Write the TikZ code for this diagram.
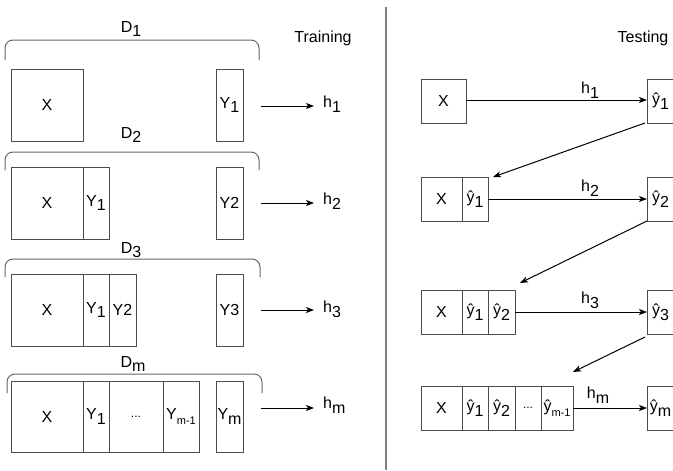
\documentclass[tikz,border=0pt]{standalone}
\usepackage{fontspec}
\setmainfont{Liberation Sans}
\usetikzlibrary{arrows.meta}
\newcommand\sbs[1]{\raisebox{-0.3em}{#1}}
\newcommand\ssm[1]{\raisebox{-0.3em}{\fontsize{11}{11}\selectfont #1}}
\tikzset{
  cell/.style={draw=black!70, line width=1pt, inner sep=0pt, outer sep=0pt, font=\fontsize{16}{19}\selectfont},
  lbl/.style={inner sep=0pt, font=\fontsize{16}{19}\selectfont},
  brc/.style={draw=black!60, line width=1pt, rounded corners=8pt},
  arr/.style={draw=black, line width=1pt, -{Stealth[length=8pt,width=6pt,inset=2pt]}},
}
\begin{document}
\begin{tikzpicture}[x=1pt,y=-1pt]
\useasboundingbox (0,0) rectangle (673,471);
% titles
\node[lbl] (train) at (323,38) {Training};
\node[lbl] (test) at (643,38) {Testing};
% separator
\draw[black!50, line width=1.5pt] (386,7) -- (386,470);

% ---------- Training ----------
% row 1
\draw[brc] (5,60) -- (5,40) -- (259,40) -- (259,60);
\node[lbl] (d1) at (131,29) {D\sbs{1}};
\node[cell, minimum width=72, minimum height=72] (a1x) at (47,105) {X};
\node[cell, minimum width=27, minimum height=72] (a1y) at (229.5,105) {Y\sbs{1}};
\coordinate (a1s) at (261,106); \coordinate (a1e) at (314,106);
\draw[arr] (a1s) -- (a1e);
\node[lbl, anchor=west] (h1) at (323,104) {h\sbs{1}};
% row 2
\draw[brc] (5,170) -- (5,152) -- (259,152) -- (259,170);
\node[lbl] (d2) at (131,135) {D\sbs{2}};
\node[cell, minimum width=72, minimum height=72] (a2x) at (47,203) {X};
\node[cell, minimum width=26, minimum height=72] (a2y1) at (96,203) {Y\sbs{1}};
\node[cell, minimum width=27, minimum height=72] (a2y) at (229.5,203) {Y2};
\coordinate (a2s) at (261,203); \coordinate (a2e) at (314,203);
\draw[arr] (a2s) -- (a2e);
\node[lbl, anchor=west] (h2) at (323,201) {h\sbs{2}};
% row 3
\draw[brc] (5,277) -- (5,259) -- (260,259) -- (260,277);
\node[lbl] (d3) at (131,250) {D\sbs{3}};
\node[cell, minimum width=72, minimum height=72] (a3x) at (47,310) {X};
\node[cell, minimum width=26, minimum height=72] (a3y1) at (96,310) {Y\sbs{1}};
\node[cell, minimum width=27, minimum height=72] (a3y2) at (122.5,310) {Y2};
\node[cell, minimum width=27, minimum height=72] (a3y) at (229.5,310) {Y3};
\coordinate (a3s) at (261,310); \coordinate (a3e) at (314,310);
\draw[arr] (a3s) -- (a3e);
\node[lbl, anchor=west] (h3) at (323,309) {h\sbs{3}};
% row m
\draw[brc] (7,393) -- (7,374) -- (262,374) -- (262,393);
\node[lbl] (dm) at (133,364) {D\sbs{m}};
\node[cell, minimum width=72, minimum height=71] (amx) at (47,416.5) {X};
\node[cell, minimum width=26, minimum height=71] (amy1) at (96,416.5) {Y\sbs{1}};
\node[cell, minimum width=54, minimum height=71] (amdots) at (136,416.5) {\fontsize{12}{12}\selectfont ...};
\node[cell, minimum width=36, minimum height=71] (amym1) at (181,416.5) {Y\ssm{m-1}};
\node[cell, minimum width=27, minimum height=71] (amy) at (229.5,416.5) {Y\sbs{m}};
\coordinate (ams) at (261,408); \coordinate (ame) at (314,408);
\draw[arr] (ams) -- (ame);
\node[lbl, anchor=west] (hm) at (323,405) {h\sbs{m}};

% ---------- Testing ----------
% row 1
\node[cell, minimum width=45, minimum height=44] (b1x) at (443.5,101) {X};
\node[cell, minimum width=27, minimum height=44] (t1) at (660.5,101) {ŷ\sbs{1}};
\draw[arr] (b1x.east |- 0,100) -- (t1.west |- 0,100);
\node[lbl] (th1) at (590,90) {h\sbs{1}};
% row 2
\node[cell, minimum width=41, minimum height=44] (b2x) at (441.5,199) {X};
\node[cell, minimum width=26, minimum height=44] (b2y1) at (475,199) {ŷ\sbs{1}};
\node[cell, minimum width=27, minimum height=44] (t2) at (660.5,199) {ŷ\sbs{2}};
\draw[arr] (b2y1.east) -- (t2.west);
\node[lbl] (th2) at (590,188) {h\sbs{2}};
% row 3
\node[cell, minimum width=41, minimum height=44] (b3x) at (441.5,312) {X};
\node[cell, minimum width=26, minimum height=44] (b3y1) at (475,312) {ŷ\sbs{1}};
\node[cell, minimum width=27, minimum height=44] (b3y2) at (501.5,312) {ŷ\sbs{2}};
\node[cell, minimum width=27, minimum height=44] (t3) at (660.5,312) {ŷ\sbs{3}};
\draw[arr] (b3y2.east) -- (t3.west);
\node[lbl] (th3) at (590,300) {h\sbs{3}};
% row m
\node[cell, minimum width=41, minimum height=44] (bmx) at (441.5,408) {X};
\node[cell, minimum width=26, minimum height=44] (bmy1) at (475,408) {ŷ\sbs{1}};
\node[cell, minimum width=27, minimum height=44] (bmy2) at (501.5,408) {ŷ\sbs{2}};
\node[cell, minimum width=26, minimum height=44] (bmdots) at (528,408) {\fontsize{12}{12}\selectfont ...};
\node[cell, minimum width=32, minimum height=44] (bmym1) at (557,408) {ŷ\ssm{m-1}};
\node[cell, minimum width=27, minimum height=44] (tm) at (660.5,408) {ŷ\sbs{m}};
\draw[arr] (bmym1.east) -- (tm.west);
\node[lbl] (thm) at (598,395) {h\sbs{m}};
% diagonal feedback arrows
\draw[arr] ([xshift=-2pt]t1.south west) -- ([xshift=5pt]b2y1.north east);
\draw[arr] (t2.south west) -- ([xshift=5pt,yshift=7pt]b3y2.north east);
\draw[arr] ([xshift=-2pt,yshift=-3pt]t3.south west) -- ([yshift=14pt]bmym1.north east);
\end{tikzpicture}
\end{document}
